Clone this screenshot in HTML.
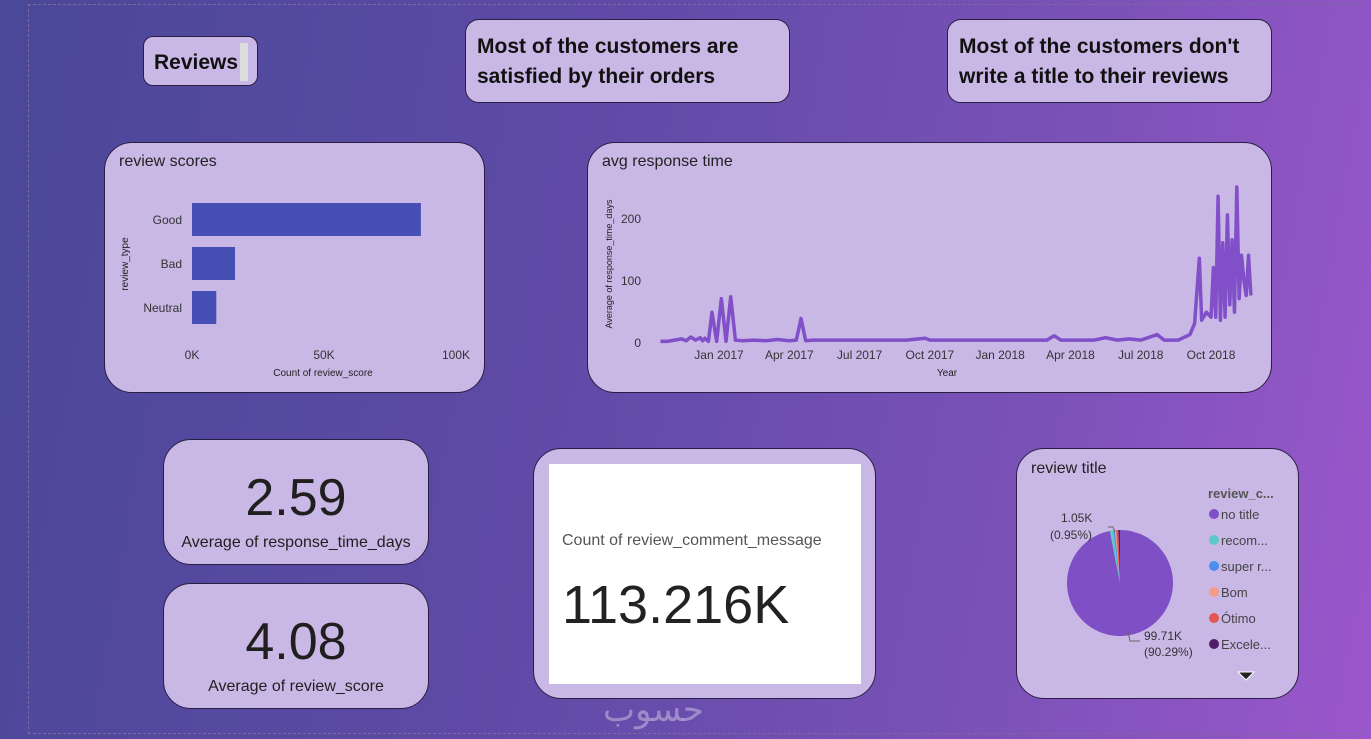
<!DOCTYPE html>
<html><head><meta charset="utf-8"><style>
body{margin:0;width:1371px;height:739px;overflow:hidden;font-family:"Liberation Sans","DejaVu Sans",sans-serif;background:linear-gradient(100deg,#4a4898 0%,#5e4aa6 40%,#7c52b8 75%,#9b57cc 100%);position:relative}
.card{position:absolute;background:#c9b8e6;border:1px solid #2b1e45;border-radius:28px;box-sizing:border-box}
.t{position:absolute;color:#111;font-weight:bold;font-size:21px;line-height:30px}
.title{position:absolute;left:14px;top:10px;font-size:16px;color:#222}
.kpi{position:absolute;width:100%;text-align:center;color:#1f1f1f}
</style></head><body>
<div style="position:absolute;left:28px;top:4px;width:1338px;height:730px;border:1px dashed #7a6aa0;box-sizing:border-box"></div>

<div class="card" style="left:143px;top:36px;width:115px;height:50px;border-radius:10px"><div class="t" style="left:10px;top:11px">Reviews</div><div style="position:absolute;left:96px;top:6px;width:8px;height:38px;background:#ddd"></div></div>
<div class="card" style="left:465px;top:19px;width:325px;height:84px;border-radius:14px"><div class="t" style="left:11px;top:12px">Most of the customers are<br>satisfied by their orders</div></div>
<div class="card" style="left:947px;top:19px;width:325px;height:84px;border-radius:14px"><div class="t" style="left:11px;top:12px">Most of the customers don't<br>write a title to their reviews</div></div>

<div class="card" style="left:104px;top:142px;width:381px;height:251px"><div class="title">review scores</div></div>
<div class="card" style="left:587px;top:142px;width:685px;height:251px"><div class="title">avg response time</div></div>

<div class="card" style="left:163px;top:439px;width:266px;height:126px"><div class="kpi" style="top:28px;font-size:52px">2.59</div><div class="kpi" style="top:94px;font-size:16px">Average of response_time_days</div></div>
<div class="card" style="left:163px;top:583px;width:266px;height:126px"><div class="kpi" style="top:28px;font-size:52px">4.08</div><div class="kpi" style="top:94px;font-size:16px">Average of review_score</div></div>
<div class="card" style="left:533px;top:448px;width:343px;height:251px"><div style="position:absolute;left:15px;top:15px;width:312px;height:220px;background:#fff"><div style="position:absolute;left:13px;top:68px;font-size:16px;color:#555">Count of review_comment_message</div><div style="position:absolute;left:13px;top:110px;font-size:54px;color:#222">113.216K</div></div></div>
<div class="card" style="left:1016px;top:448px;width:283px;height:251px"><div class="title" style="top:11px">review title</div></div>
<div style="position:absolute;left:603px;top:690px;font-size:34px;color:rgba(255,255,255,.35);font-family:'DejaVu Sans',sans-serif">حسوب</div>

<svg width="1371" height="739" style="position:absolute;left:0;top:0" font-family="Liberation Sans, sans-serif">
<g id="bar"></g><g id="line"></g><g id="pie"></g>
</svg>
<script>
const barCats=["Good","Bad","Neutral"];
const barVals=[86.7,16.3,9.2];
const barTicks=[0,50,100];
const lineTicks=[0,100,200];
const monthLabels=["Jan 2017","Apr 2017","Jul 2017","Oct 2017","Jan 2018","Apr 2018","Jul 2018","Oct 2018"];
const monthPos=[0,3,6,9,12,15,18,21];
const lineT=[-2.5,-2.2,-1.9,-1.6,-1.4,-1.2,-1.0,-0.8,-0.7,-0.6,-0.45,-0.3,-0.1,0.1,0.3,0.5,0.7,1,1.5,2,2.5,3,3.3,3.5,3.7,4,5,6,7,8,8.8,9,9.5,10,11,12,13,14,14.3,14.6,15,16,16.5,17,17.5,18,18.7,19,19.6,20.1,20.3,20.5,20.6,20.8,21.0,21.1,21.2,21.3,21.4,21.5,21.6,21.7,21.8,21.9,22.0,22.1,22.2,22.3,22.4,22.5,22.6,22.7];
const lineV=[1,1,3,5,2,8,3,7,2,6,1,48,1,70,1,73,3,2,3,2,4,2,3,38,2,3,3,3,3,3,6,3,3,3,3,3,3,3,10,3,3,3,7,3,5,3,12,3,3,12,30,135,35,48,40,120,40,235,35,160,40,205,60,165,48,250,70,140,100,75,140,75];
const pieLabels=["no title","recom...","super r...","Bom","Ótimo","Excele..."];
const pieVals=[99.71,1.05,0.5,0.4,0.7,0.5];
const pieColors=["#7f4fc6","#5fc8c8","#4a8ef0","#f29b8a","#e5554f","#4d1e66"];
const NS="http://www.w3.org/2000/svg";
function mk(p,tag,a,txt){const e=document.createElementNS(NS,tag);for(const k in a)e.setAttribute(k,a[k]);if(txt!==undefined)e.textContent=txt;p.appendChild(e);return e;}
const gb=document.getElementById('bar');
const bx=v=>192+v*2.64;
barCats.forEach((c,i)=>{const y=203+i*44;
 const r=mk(gb,'rect',{x:192,y:y,width:bx(barVals[i])-192,height:33,fill:'#4650b4'});
 
 
 const t=mk(gb,'text',{x:182,y:y+21,'text-anchor':'end','font-size':12,fill:'#333'},c);
 
 });
barTicks.forEach(v=>{const t=mk(gb,'text',{x:bx(v),y:359,'text-anchor':'middle','font-size':12,fill:'#333'},v+'K');
 
 });
let xt=mk(gb,'text',{x:323,y:376,'text-anchor':'middle','font-size':10,fill:'#222'},'Count of review_score');


let yt=mk(gb,'text',{x:128,y:264,'text-anchor':'middle','font-size':10,fill:'#222',transform:'rotate(-90 128 264)'},'review_type');


const gl=document.getElementById('line');
const lx=m=>719+m*23.43, ly=v=>342-v*0.62;
lineTicks.forEach(v=>{const t=mk(gl,'text',{x:641,y:ly(v)+5,'text-anchor':'end','font-size':12,fill:'#333'},v);
 
 });
monthLabels.forEach((l,i)=>{const t=mk(gl,'text',{x:lx(monthPos[i]),y:359,'text-anchor':'middle','font-size':12,fill:'#333'},l);
 
 });
xt=mk(gl,'text',{x:947,y:376,'text-anchor':'middle','font-size':10,fill:'#222'},'Year');


yt=mk(gl,'text',{x:612,y:264,'text-anchor':'middle','font-size':9,fill:'#222',transform:'rotate(-90 612 264)'},'Average of response_time_days');


const pl=mk(gl,'polyline',{points:lineT.map((t,i)=>lx(t)+','+ly(lineV[i])).join(' '),fill:'none',stroke:'#8150c8','stroke-width':3.5,'stroke-linejoin':'round'});


const gp=document.getElementById('pie');
const cx=1120,cy=583,R=53,tot=pieVals.reduce((a,b)=>a+b,0);
let a0=0;
pieVals.forEach((v,i)=>{const a1=a0+v/tot*2*Math.PI;
 const p=(a)=>[cx+R*Math.sin(a),cy-R*Math.cos(a)];
 const [x0,y0]=p(a0),[x1,y1]=p(a1);
 const s=mk(gp,'path',{d:`M${cx},${cy}L${x0},${y0}A${R},${R} 0 ${a1-a0>Math.PI?1:0} 1 ${x1},${y1}Z`,fill:pieColors[i]});
 
 
 a0=a1;});
[['1.05K',1061,522],['(0.95%)',1050,539],['99.71K',1144,640],['(90.29%)',1144,656]].forEach(d=>{const t=mk(gp,'text',{x:d[1],y:d[2],'font-size':12,fill:'#333'},d[0]);
 
 });
mk(gp,'polyline',{points:'1108,527 1113,527 1115,532',fill:'none',stroke:'#666'});
mk(gp,'polyline',{points:'1128,631 1130,641 1140,641',fill:'none',stroke:'#666'});
let lt=mk(gp,'text',{x:1208,y:498,'font-size':13,'font-weight':'bold',fill:'#555'},'review_c...');


pieLabels.forEach((l,i)=>{const y=514+i*26;
 const c=mk(gp,'circle',{cx:1214,cy:y,r:5,fill:pieColors[i]});
 
 
 const t=mk(gp,'text',{x:1221,y:y+5,'font-size':13,fill:'#444'},l);
 
 });
const tri=mk(gp,'path',{d:'M1238,672 L1254,672 L1246,680 Z',fill:'#222',stroke:'#fff','stroke-width':1});


</script>
</body></html>
